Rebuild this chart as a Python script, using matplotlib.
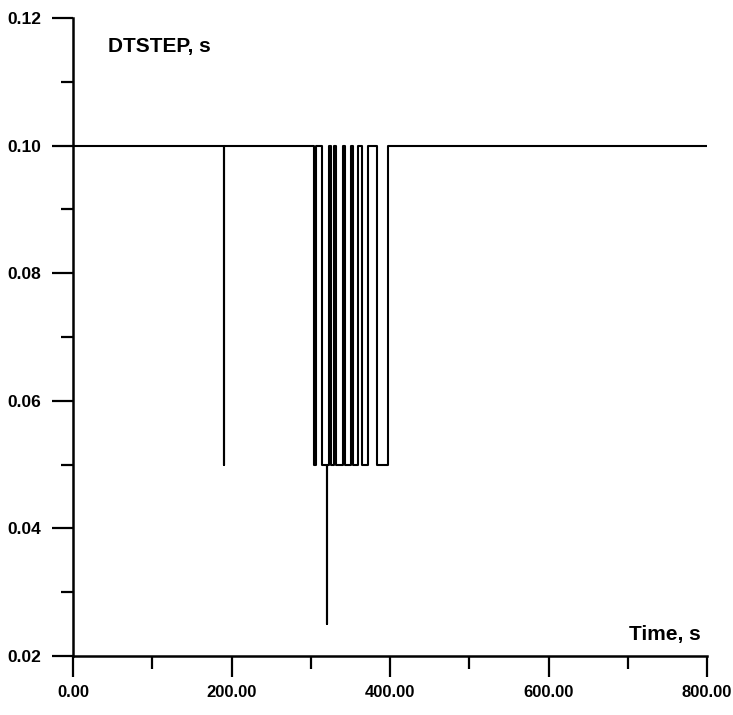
import matplotlib
matplotlib.use("Agg")
import matplotlib.pyplot as plt
from matplotlib.ticker import MultipleLocator

plt.rcParams['font.family'] = ['Liberation Sans Narrow', 'Liberation Sans', 'DejaVu Sans']

# DTSTEP time history (steps-post)
times = [0, 190, 190.5, 304, 306.5, 314, 320, 320.5, 323, 325.5, 329.5, 332,
         340.5, 343, 351, 353, 359.5, 364.5, 372, 383.5, 397.5, 800]
values = [0.10, 0.05, 0.10, 0.05, 0.10, 0.05, 0.025, 0.05, 0.10, 0.05, 0.10, 0.05,
          0.10, 0.05, 0.10, 0.05, 0.10, 0.05, 0.10, 0.05, 0.10, 0.10]

x_ticks = [0, 200, 400, 600, 800]
x_labels = ["0.00", "200.00", "400.00", "600.00", "800.00"]
y_ticks = [0.02, 0.04, 0.06, 0.08, 0.10, 0.12]
y_labels = ["0.02", "0.04", "0.06", "0.08", "0.10", "0.12"]

fig = plt.figure(figsize=(7.33, 7.15), dpi=100)
ax = fig.add_axes([73/733, 1-656/715, 634/733, 638/715])

ax.step(times, values, where='post', color='black', lw=1.5)

ax.set_xlim(0, 800)
ax.set_ylim(0.02, 0.12)
ax.set_xticks(x_ticks)
ax.set_xticklabels(x_labels)
ax.set_yticks(y_ticks)
ax.set_yticklabels(y_labels)
ax.xaxis.set_minor_locator(MultipleLocator(100))
ax.yaxis.set_minor_locator(MultipleLocator(0.01))

for s in ['top', 'right']:
    ax.spines[s].set_visible(False)
for s in ['left', 'bottom']:
    ax.spines[s].set_linewidth(1.8)

ax.tick_params(axis='x', which='major', direction='out', length=15, width=1.6,
               labelsize=12, pad=6)
ax.tick_params(axis='y', which='major', direction='out', length=15, width=1.6,
               labelsize=12.5, pad=8)
ax.tick_params(axis='both', which='minor', direction='out', length=9, width=1.6)
for lab in ax.get_xticklabels() + ax.get_yticklabels():
    lab.set_fontweight('bold')

ax.text(44, 0.1156, "DTSTEP, s", fontsize=15, fontweight='bold', va='center', ha='left')
ax.text(792, 0.0233, "Time, s", fontsize=15, fontweight='bold', va='center', ha='right')

fig.savefig("out.png", dpi=100)
